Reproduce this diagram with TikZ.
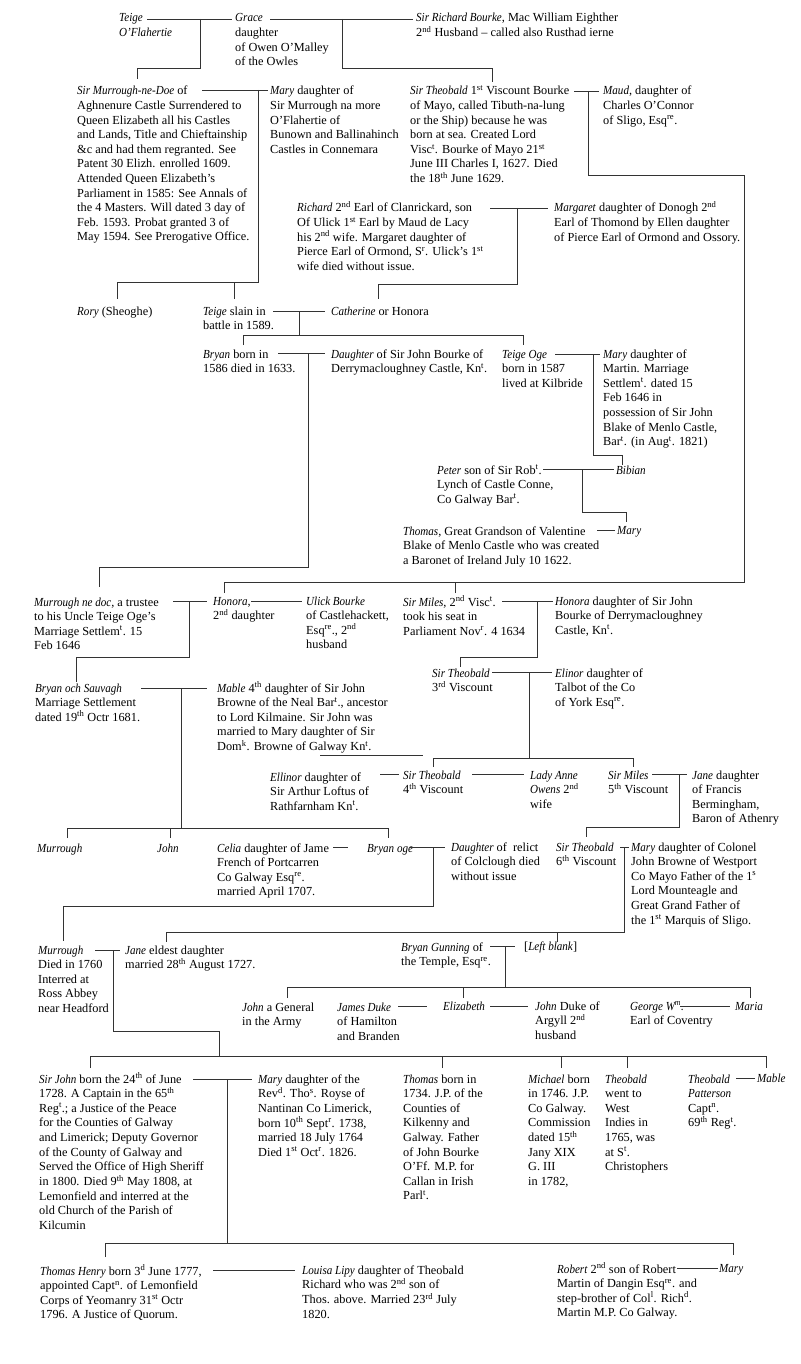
\documentclass[tikz,border=0pt]{standalone}
\usepackage{fontspec}
\setmainfont{Liberation Serif}[ItalicFeatures={FakeStretch=0.9}]
\newcommand{\supr}[1]{\textsuperscript{#1}}
\newcommand{\ftab}[1]{\begin{tabular}[t]{@{}l@{}}#1\end{tabular}}
\begin{document}
\begin{tikzpicture}[x=1pt,y=-1pt,
  person/.style={anchor=base west,inner sep=0pt,font=\fontsize{12.3}{14.6}\selectfont},
  tie/.style={draw=black!80,line width=0.7pt}]
\useasboundingbox (0,0) rectangle (800,1364);

% generation of Grace
\node[person] (teige) at (119,22) {\ftab{\textit{Teige}\\\textit{O'Flahertie}}};
\node[person] (grace) at (235,22) {\ftab{\textit{Grace}\\daughter\\of Owen O'Malley\\of the Owles}};
\node[person] (richard) at (416,22) {\ftab{\textit{Sir Richard Bourke}, Mac William Eighther\\2\supr{nd} Husband -- called also Rusthad ierne}};

\node[person] (murrough1) at (77,95) {\ftab{\textit{Sir Murrough-ne-Doe} of\\Aghnenure Castle Surrendered to\\Queen Elizabeth all his Castles\\and Lands, Title and Chieftainship\\\&c and had them regranted. See\\Patent 30 Elizh. enrolled 1609.\\Attended Queen Elizabeth's\\Parliament in 1585: See Annals of\\the 4 Masters. Will dated 3 day of\\Feb. 1593. Probat granted 3 of\\May 1594. See Prerogative Office.}};
\node[person] (mary1) at (270,95) {\ftab{\textit{Mary} daughter of\\Sir Murrough na more\\O'Flahertie of\\Bunown and Ballinahinch\\Castles in Connemara}};
\node[person] (theobald1) at (410,95) {\ftab{\textit{Sir Theobald} 1\supr{st} Viscount Bourke\\of Mayo, called Tibuth-na-lung\\or the Ship) because he was\\born at sea. Created Lord\\Visc\supr{t}. Bourke of Mayo 21\supr{st}\\June III Charles I, 1627. Died\\the 18\supr{th} June 1629.}};
\node[person] (maud) at (603,95) {\ftab{\textit{Maud}, daughter of\\Charles O'Connor\\of Sligo, Esq\supr{re}.}};

\node[person] (richard2) at (297,212) {\ftab{\textit{Richard} 2\supr{nd} Earl of Clanrickard, son\\Of Ulick 1\supr{st} Earl by Maud de Lacy\\his 2\supr{nd} wife. Margaret daughter of\\Pierce Earl of Ormond, S\supr{r}. Ulick's 1\supr{st}\\wife died without issue.}};
\node[person] (margaret) at (554,212) {\ftab{\textit{Margaret} daughter of Donogh 2\supr{nd}\\Earl of Thomond by Ellen daughter\\of Pierce Earl of Ormond and Ossory.}};

\node[person] (rory) at (77,315) {\textit{Rory} (Sheoghe)};
\node[person] (teige2) at (203,315) {\ftab{\textit{Teige} slain in\\battle in 1589.}};
\node[person] (catherine) at (331,315) {\textit{Catherine} or Honora};

\node[person] (bryan1) at (203,358) {\ftab{\textit{Bryan} born in\\1586 died in 1633.}};
\node[person] (daughter1) at (331,358) {\ftab{\textit{Daughter} of Sir John Bourke of\\Derrymacloughney Castle, Kn\supr{t}.}};
\node[person] (teigeoge) at (502,358) {\ftab{\textit{Teige Oge}\\born in 1587\\lived at Kilbride}};
\node[person] (mary2) at (603,358) {\ftab{\textit{Mary} daughter of\\Martin. Marriage\\Settlem\supr{t}. dated 15\\Feb 1646 in\\possession of Sir John\\Blake of Menlo Castle,\\Bar\supr{t}. (in Aug\supr{t}. 1821)}};

\node[person] (peter) at (437,474) {\ftab{\textit{Peter} son of Sir Rob\supr{t}.\\Lynch of Castle Conne,\\Co Galway Bar\supr{t}.}};
\node[person] (bibian) at (616,474) {\textit{Bibian}};
\node[person] (thomas1) at (403,535) {\ftab{\textit{Thomas}, Great Grandson of Valentine\\Blake of Menlo Castle who was created\\a Baronet of Ireland July 10 1622.}};
\node[person] (mary3) at (617,534) {\textit{Mary}};

\node[person] (murrough2) at (34,606) {\ftab{\textit{Murrough ne doc}, a trustee\\to his Uncle Teige Oge's\\Marriage Settlem\supr{t}. 15\\Feb 1646}};
\node[person] (honora1) at (213,605) {\ftab{\textit{Honora},\\2\supr{nd} daughter}};
\node[person] (ulick) at (306,605) {\ftab{\textit{Ulick Bourke}\\of Castlehackett,\\Esq\supr{re}., 2\supr{nd}\\husband}};
\node[person] (miles2) at (403,606) {\ftab{\textit{Sir Miles}, 2\supr{nd} Visc\supr{t}.\\took his seat in\\Parliament Nov\supr{r}. 4 1634}};
\node[person] (honora2) at (555,605) {\ftab{\textit{Honora} daughter of Sir John\\Bourke of Derrymacloughney\\Castle, Kn\supr{t}.}};

\node[person] (theobald3) at (432,677) {\ftab{\textit{Sir Theobald}\\3\supr{rd} Viscount}};
\node[person] (elinor) at (555,677) {\ftab{\textit{Elinor} daughter of\\Talbot of the Co\\of York Esq\supr{re}.}};
\node[person] (bryanoch) at (35,692) {\ftab{\textit{Bryan och Sauvagh}\\Marriage Settlement\\dated 19\supr{th} Octr 1681.}};
\node[person] (mable1) at (217,692) {\ftab{\textit{Mable} 4\supr{th} daughter of Sir John\\Browne of the Neal Bar\supr{t}., ancestor\\to Lord Kilmaine. Sir John was\\married to Mary daughter of Sir\\Dom\supr{k}. Browne of Galway Kn\supr{t}.}};

\node[person] (ellinor) at (270,781) {\ftab{\textit{Ellinor} daughter of\\Sir Arthur Loftus of\\Rathfarnham Kn\supr{t}.}};
\node[person] (theobald4) at (403,779) {\ftab{\textit{Sir Theobald}\\4\supr{th} Viscount}};
\node[person] (ladyanne) at (530,779) {\ftab{\textit{Lady Anne}\\\textit{Owens} 2\supr{nd}\\wife}};
\node[person] (miles5) at (608,779) {\ftab{\textit{Sir Miles}\\5\supr{th} Viscount}};
\node[person] (jane1) at (692,779) {\ftab{\textit{Jane} daughter\\of Francis\\Bermingham,\\Baron of Athenry}};

\node[person] (murrough3) at (37,852) {\textit{Murrough}};
\node[person] (john1) at (157,852) {\textit{John}};
\node[person] (celia) at (217,852) {\ftab{\textit{Celia} daughter of Jame\\French of Portcarren\\Co Galway Esq\supr{re}.\\married April 1707.}};
\node[person] (bryanoge) at (367,852) {\textit{Bryan oge}};
\node[person] (daughter2) at (451,851) {\ftab{\textit{Daughter} of\ \ relict\\of Colclough died\\without issue}};
\node[person] (theobald6) at (556,851) {\ftab{\textit{Sir Theobald}\\6\supr{th} Viscount}};
\node[person] (mary4) at (631,851) {\ftab{\textit{Mary} daughter of Colonel\\John Browne of Westport\\Co Mayo Father of the 1\supr{s}\\Lord Mounteagle and\\Great Grand Father of\\the 1\supr{st} Marquis of Sligo.}};

\node[person] (murrough4) at (38,954) {\ftab{\textit{Murrough}\\Died in 1760\\Interred at\\Ross Abbey\\near Headford}};
\node[person] (jane2) at (125,954) {\ftab{\textit{Jane} eldest daughter\\married 28\supr{th} August 1727.}};
\node[person] (gunning) at (401,951) {\ftab{\textit{Bryan Gunning} of\\the Temple, Esq\supr{re}.}};
\node[person] (leftblank) at (524,950) {[\textit{Left blank}]};

\node[person] (john2) at (242,1011) {\ftab{\textit{John} a General\\in the Army}};
\node[person] (james) at (337,1011) {\ftab{\textit{James Duke}\\of Hamilton\\and Branden}};
\node[person] (elizabeth) at (443,1010) {\textit{Elizabeth}};
\node[person] (johnduke) at (535,1010) {\ftab{\textit{John} Duke of\\Argyll 2\supr{nd}\\husband}};
\node[person] (george) at (630,1010) {\ftab{\textit{George W\supr{m}.}\\Earl of Coventry}};
\node[person] (maria) at (735,1010) {\textit{Maria}};

\node[person] (sirjohn) at (39,1083) {\ftab{\textit{Sir John} born the 24\supr{th} of June\\1728. A Captain in the 65\supr{th}\\Reg\supr{t}.; a Justice of the Peace\\for the Counties of Galway\\and Limerick; Deputy Governor\\of the County of Galway and\\Served the Office of High Sheriff\\in 1800. Died 9\supr{th} May 1808, at\\Lemonfield and interred at the\\old Church of the Parish of\\Kilcumin}};
\node[person] (mary5) at (258,1083) {\ftab{\textit{Mary} daughter of the\\Rev\supr{d}. Tho\supr{s}. Royse of\\Nantinan Co Limerick,\\born 10\supr{th} Sept\supr{r}. 1738,\\married 18 July 1764\\Died 1\supr{st} Oct\supr{r}. 1826.}};
\node[person] (thomas2) at (403,1083) {\ftab{\textit{Thomas} born in\\1734. J.P. of the\\Counties of\\Kilkenny and\\Galway. Father\\of John Bourke\\O'Ff. M.P. for\\Callan in Irish\\Parl\supr{t}.}};
\node[person] (michael) at (528,1083) {\ftab{\textit{Michael} born\\in 1746. J.P.\\Co Galway.\\Commission\\dated 15\supr{th}\\Jany XIX\\G. III\\in 1782,}};
\node[person] (theobald7) at (605,1083) {\ftab{\textit{Theobald}\\went to\\West\\Indies in\\1765, was\\at S\supr{t}.\\Christophers}};
\node[person] (theobald8) at (688,1083) {\ftab{\textit{Theobald}\\\textit{Patterson}\\Capt\supr{n}.\\69\supr{th} Reg\supr{t}.}};
\node[person] (mable2) at (757,1082) {\textit{Mable}};

\node[person] (thomashenry) at (40,1275) {\ftab{\textit{Thomas Henry} born 3\supr{d} June 1777,\\appointed Capt\supr{n}. of Lemonfield\\Corps of Yeomanry 31\supr{st} Octr\\1796. A Justice of Quorum.}};
\node[person] (louisa) at (302,1274) {\ftab{\textit{Louisa Lipy} daughter of Theobald\\Richard who was 2\supr{nd} son of\\Thos. above. Married 23\supr{rd} July\\1820.}};
\node[person] (robert) at (557,1273) {\ftab{\textit{Robert} 2\supr{nd} son of Robert\\Martin of Dangin Esq\supr{re}. and\\step-brother of Col\supr{l}. Rich\supr{d}.\\Martin M.P. Co Galway.}};
\node[person] (mary6) at (719,1272) {\textit{Mary}};

% marriage lines and their junctions
\coordinate (tg-l) at (147,19);  \coordinate (tg-r) at (232,19);  \coordinate (tg-j) at (200,19);
\coordinate (gr-l) at (270,19);  \coordinate (gr-r) at (413,19);  \coordinate (gr-j) at (342,19);
\coordinate (sm-l) at (202,90);  \coordinate (sm-r) at (268,90);  \coordinate (sm-j) at (258,90);
\coordinate (tm-l) at (574,91);  \coordinate (tm-r) at (599,91);  \coordinate (tm-j) at (588,91);
\coordinate (tm-k) at (744,582);
\coordinate (rm-l) at (490,208); \coordinate (rm-r) at (548,208); \coordinate (rm-j) at (517,208);
\coordinate (tc-l) at (273,311); \coordinate (tc-r) at (325,311); \coordinate (tc-j) at (299,311);
\coordinate (bd-l) at (278,353); \coordinate (bd-r) at (325,353); \coordinate (bd-j) at (308,353);
\coordinate (to-l) at (555,354); \coordinate (to-r) at (600,354); \coordinate (to-j) at (593,354);
\coordinate (pb-l) at (543,469); \coordinate (pb-r) at (614,469); \coordinate (pb-j) at (582,469);
\coordinate (tv-l) at (597,530); \coordinate (tv-r) at (615,530);
\coordinate (mh-l) at (173,601); \coordinate (mh-r) at (207,601); \coordinate (mh-j) at (189,601);
\coordinate (hu-l) at (251,601); \coordinate (hu-r) at (302,601);
\coordinate (mi-l) at (502,601); \coordinate (mi-r) at (553,601); \coordinate (mi-j) at (537,601);
\coordinate (te-l) at (492,672); \coordinate (te-r) at (552,672); \coordinate (te-j) at (529,672);
\coordinate (bm-l) at (141,688); \coordinate (bm-r) at (207,688); \coordinate (bm-j) at (181,688);
\coordinate (xs-l) at (320,755); \coordinate (xs-r) at (423,755);
\coordinate (et-l) at (380,774); \coordinate (et-r) at (399,774);
\coordinate (ta-l) at (472,774); \coordinate (ta-r) at (524,774);
\coordinate (mj-l) at (652,774); \coordinate (mj-r) at (687,774); \coordinate (mj-j) at (679,774);
\coordinate (cb-l) at (333,847); \coordinate (cb-r) at (348,847);
\coordinate (bo-l) at (410,847); \coordinate (bo-r) at (445,847); \coordinate (bo-j) at (433,847);
\coordinate (ts-l) at (620,847); \coordinate (ts-r) at (629,847); \coordinate (ts-j) at (624,847);
\coordinate (mu-l) at (95,950);  \coordinate (mu-r) at (120,950); \coordinate (mu-j) at (113,950);
\coordinate (mu-k) at (219,1056);
\coordinate (bg-l) at (490,946); \coordinate (bg-r) at (515,946); \coordinate (bg-j) at (505,946);
\coordinate (je-l) at (398,1006); \coordinate (je-r) at (427,1006);
\coordinate (ej-l) at (490,1006); \coordinate (ej-r) at (528,1006);
\coordinate (gm-l) at (680,1006); \coordinate (gm-r) at (730,1006);
\coordinate (jm-l) at (193,1079); \coordinate (jm-r) at (252,1079); \coordinate (jm-j) at (227,1079);
\coordinate (tb-l) at (736,1078); \coordinate (tb-r) at (755,1078);
\coordinate (tl-l) at (213,1270); \coordinate (tl-r) at (295,1270);
\coordinate (rb-l) at (677,1268); \coordinate (rb-r) at (718,1268);

% tops of the children
\coordinate (murrough1-t) at (137,79);  \coordinate (theobald1-t) at (492,82);
\coordinate (rory-t) at (117,299);      \coordinate (teige2-t) at (234,299);
\coordinate (catherine-t) at (378,299);
\coordinate (bryan1-t) at (243,345);    \coordinate (teigeoge-t) at (523,345);
\coordinate (murrough2-t) at (99,587);  \coordinate (bibian-t) at (622,465);
\coordinate (mary3-t) at (626,522);
\coordinate (honora1-t) at (224,593);   \coordinate (miles2-t) at (455,593);
\coordinate (bryanoch-t) at (76,682);   \coordinate (theobald3-t) at (460,667);
\coordinate (theobald4-t) at (433,767); \coordinate (miles5-t) at (633,767);
\coordinate (murrough3-t) at (67,838);  \coordinate (john1-t) at (170,838);
\coordinate (bryanoge-t) at (388,838);  \coordinate (theobald6-t) at (586,837);
\coordinate (murrough4-t) at (63,941);  \coordinate (jane2-t) at (166,942);
\coordinate (leftblank-t) at (557,942);
\coordinate (john2-t) at (287,998);     \coordinate (elizabeth-t) at (463,998);
\coordinate (maria-t) at (750,998);
\coordinate (sirjohn-t) at (90,1068);   \coordinate (thomas2-t) at (442,1068);
\coordinate (michael-t) at (561,1068);  \coordinate (theobald7-t) at (627,1068);
\coordinate (mable2-t) at (766,1068);
\coordinate (thomashenry-t) at (105,1257); \coordinate (mary6-t) at (733,1255);

\path[tie]
  (tg-l) -- (tg-r)  (gr-l) -- (gr-r)  (sm-l) -- (sm-r)  (tm-l) -- (tm-r)
  (rm-l) -- (rm-r)  (tc-l) -- (tc-r)  (bd-l) -- (bd-r)  (to-l) -- (to-r)
  (pb-l) -- (pb-r)  (tv-l) -- (tv-r)  (mh-l) -- (mh-r)  (hu-l) -- (hu-r)
  (mi-l) -- (mi-r)  (te-l) -- (te-r)  (bm-l) -- (bm-r)  (xs-l) -- (xs-r)
  (et-l) -- (et-r)  (ta-l) -- (ta-r)  (mj-l) -- (mj-r)  (cb-l) -- (cb-r)
  (bo-l) -- (bo-r)  (ts-l) -- (ts-r)  (mu-l) -- (mu-r)  (bg-l) -- (bg-r)
  (je-l) -- (je-r)  (ej-l) -- (ej-r)  (gm-l) -- (gm-r)  (jm-l) -- (jm-r)
  (tb-l) -- (tb-r)  (tl-l) -- (tl-r)  (rb-l) -- (rb-r);

% lines of descent
\path[tie]
  (tg-j) -- ++(0,49) -| (murrough1-t)
  (gr-j) -- ++(0,49) -| (theobald1-t)
  (sm-j) -- ++(0,192) -| (rory-t)  (teige2-t) -- ++(0,-17)
  (tm-j) -- ++(0,84) -| (tm-k) -| (honora1-t)  (miles2-t) -- ++(0,-11)
  (rm-j) -- ++(0,76) -| (catherine-t)
  (tc-j) -- ++(0,24)  (bryan1-t) -- ++(0,-10) -| (teigeoge-t)
  (bd-j) -- ++(0,214) -| (murrough2-t)
  (to-j) -- ++(0,101) -| (bibian-t)
  (pb-j) -- ++(0,43) -| (mary3-t)
  (mh-j) -- ++(0,56) -| (bryanoch-t)
  (mi-j) -- ++(0,56) -| (theobald3-t)
  (te-j) -- ++(0,86)  (theobald4-t) -- ++(0,-9) -| (miles5-t)
  (bm-j) -- ++(0,140)  (murrough3-t) -- ++(0,-10) -| (bryanoge-t)  (john1-t) -- ++(0,-10)
  (mj-j) -- ++(0,53) -| (theobald6-t)
  (bo-j) -- ++(0,59) -| (murrough4-t)
  (ts-j) -- ++(0,85) -| (jane2-t)  (leftblank-t) -- ++(0,-10)
  (mu-j) -- ++(0,81) -| (mu-k)
  (sirjohn-t) -- ++(0,-12) -| (mable2-t)  (thomas2-t) -- ++(0,-12)
  (michael-t) -- ++(0,-12)  (theobald7-t) -- ++(0,-12)
  (bg-j) -- ++(0,41)  (john2-t) -- ++(0,-11) -| (maria-t)  (elizabeth-t) -- ++(0,-11)
  (jm-j) -- ++(0,164)  (thomashenry-t) -- ++(0,-14) -| (mary6-t);
\end{tikzpicture}
\end{document}
